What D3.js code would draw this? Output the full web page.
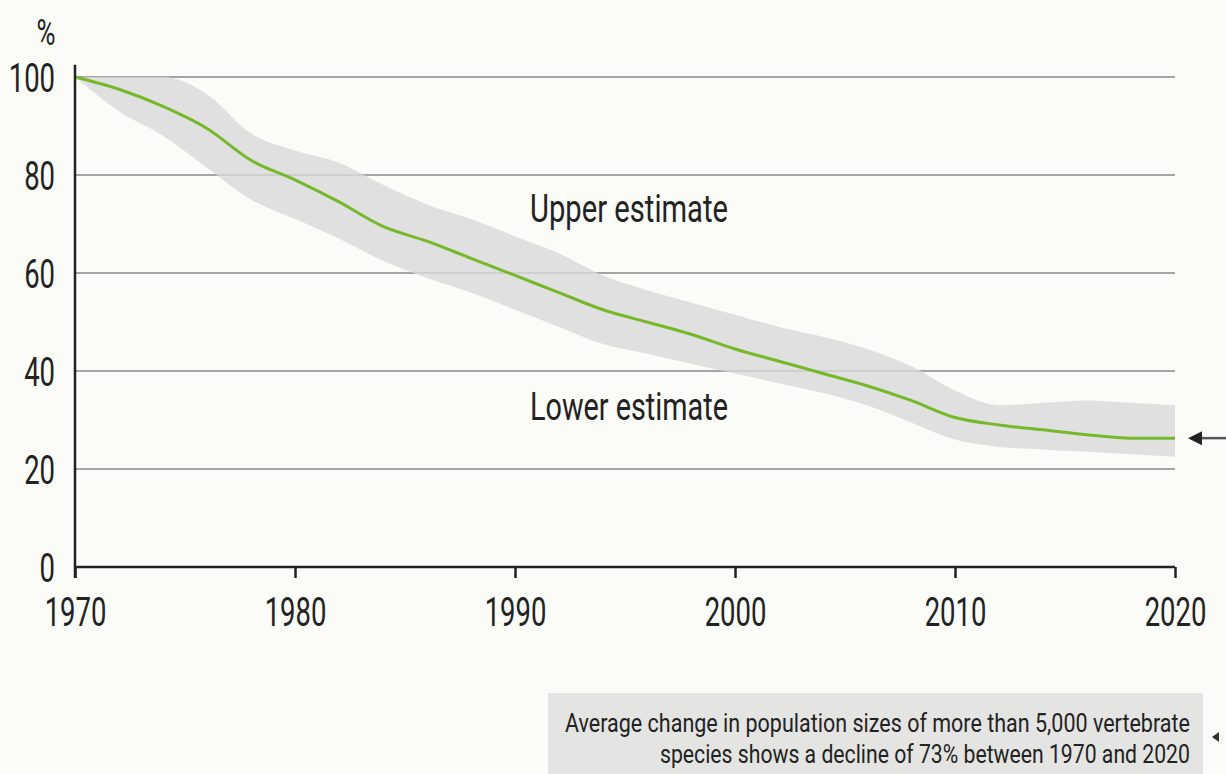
<!DOCTYPE html>
<html>
<head>
<meta charset="utf-8">
<script src="https://cdn.jsdelivr.net/npm/d3@7"></script>
<style>
  body { margin: 0; background: #fbfbf8; }
  svg { display: block; }
  text { font-family: Roboto, "DejaVu Sans", sans-serif; fill: #222; }
</style>
</head>
<body>
<div id="chart"></div>
<script>
// data
const years = [1970, 1972, 1974, 1976, 1978, 1980, 1982, 1984, 1986, 1988, 1990, 1992, 1994,
               1996, 1998, 2000, 2002, 2004, 2006, 2008, 2010, 2012, 2014, 2016, 2018, 2020];
const index = [100, 97.5, 94, 89.5, 83, 79, 74.5, 69.5, 66.5, 63, 59.5, 56, 52.5,
               50, 47.5, 44.5, 42, 39.5, 37, 34, 30.5, 29, 28, 27, 26.3, 26.3];
const upper = [100, 100, 100, 96.5, 88.5, 85, 82.5, 78, 74, 71, 67.5, 64, 59.5,
               56.5, 54, 51.5, 49, 47, 44.5, 41, 36, 33, 33.5, 34, 33.5, 33];
const lower = [100, 93, 88, 81.5, 75, 71, 67, 62.5, 59, 56, 52.5, 49, 45.5,
               43.5, 41.5, 39.5, 37.5, 35.5, 33, 29.5, 26, 24.5, 24, 23.5, 23, 22.5];
const yTicks = [0, 20, 40, 60, 80, 100];
const xTicks = [1970, 1980, 1990, 2000, 2010, 2020];
const caption = ["Average change in population sizes of more than 5,000 vertebrate",
                 "species shows a decline of 73% between 1970 and 2020"];

const width = 1226, height = 774;
const squeeze = 0.67; // reference uses a condensed face

const svg = d3.select("#chart")
    .append("svg")
    .attr("width", width)
    .attr("height", height);

const x = d3.scaleLinear().domain([1970, 2020]).range([75, 1175]);
const y = d3.scaleLinear().domain([0, 100]).range([567, 77]);

const rows = years.map((yr, i) => ({ year: yr, v: index[i], hi: upper[i], lo: lower[i] }));

// squeeze a text so it spans a given width, starting (or ending) at px
function fitText(sel, px, py, w, anchor) {
    const natural = sel.node().getComputedTextLength();
    const sx = w / natural;
    const left = anchor === "end" ? px - w : px;
    sel.attr("x", 0).attr("y", 0)
        .attr("transform", `translate(${left},${py}) scale(${sx},1)`);
}

// gridlines
svg.selectAll("line.grid")
    .data(yTicks.filter(d => d > 0))
    .enter()
    .append("line")
    .attr("x1", x(1970))
    .attr("x2", x(2020))
    .attr("y1", d => y(d))
    .attr("y2", d => y(d))
    .attr("stroke", "#a4a4a4")
    .attr("stroke-width", 2);

// uncertainty band
const band = d3.area()
    .x(d => x(d.year))
    .y0(d => y(d.lo))
    .y1(d => y(d.hi))
    .curve(d3.curveMonotoneX);

svg.append("path")
    .datum(rows)
    .attr("d", band)
    .attr("fill", "#d9d9d9")
    .attr("fill-opacity", 0.8);

// main index line
const line = d3.line()
    .x(d => x(d.year))
    .y(d => y(d.v))
    .curve(d3.curveMonotoneX);

svg.append("path")
    .datum(rows)
    .attr("d", line)
    .attr("fill", "none")
    .attr("stroke", "#76b82a")
    .attr("stroke-width", 3);

// axes
const xAxis = svg.append("g")
    .attr("transform", `translate(0, ${y(0)})`)
    .call(d3.axisBottom(x).tickValues(xTicks).tickFormat(d3.format("d")).tickSize(11).tickPadding(19));
xAxis.select(".domain").attr("stroke", "#222").attr("stroke-width", 2.5).attr("d", `M${x(1970)},0H${x(2020)}`);
xAxis.selectAll(".tick line").attr("stroke", "#222").attr("stroke-width", 2.5);
xAxis.selectAll(".tick text")
    .style("font-size", "41px")
    .attr("fill", "#222")
    .attr("transform", `scale(${squeeze},1)`);

const yAxis = svg.append("g")
    .attr("transform", `translate(${x(1970)}, 0)`)
    .call(d3.axisLeft(y).tickValues(yTicks).tickSize(0));
yAxis.select(".domain").attr("stroke", "#222").attr("stroke-width", 2.5).attr("d", `M0,${y(102.5)}V${y(0) + 11}`);
yAxis.selectAll(".tick text")
    .style("font-size", "41px")
    .attr("fill", "#222")
    .attr("x", -20 / squeeze)
    .attr("dy", "0.36em")
    .attr("transform", `scale(${squeeze},1)`);

svg.append("text")
    .attr("x", 46 / 0.7)
    .attr("y", 45)
    .attr("text-anchor", "middle")
    .attr("transform", "scale(0.7,1)")
    .style("font-size", "37px")
    .text("%");

// band labels
const upLabel = svg.append("text").style("font-size", "38px").text("Upper estimate");
fitText(upLabel, 530, 222, 198, "start");
const loLabel = svg.append("text").style("font-size", "38px").text("Lower estimate");
fitText(loLabel, 530, 420, 198, "start");

// arrow pointing at the 2020 value
const last = rows[rows.length - 1];
svg.append("line")
    .attr("x1", x(2020) + 25)
    .attr("x2", width)
    .attr("y1", y(last.v))
    .attr("y2", y(last.v))
    .attr("stroke", "#555")
    .attr("stroke-width", 2.5);
svg.append("path")
    .attr("d", `M${x(2020) + 13},${y(last.v)}l14,-7v14z`)
    .attr("fill", "#222");

// caption box
svg.append("rect")
    .attr("x", 548)
    .attr("y", 693)
    .attr("width", 655)
    .attr("height", 81)
    .attr("fill", "#e4e4e2");

caption.forEach((t, i) => {
    const c = svg.append("text").style("font-size", "26px").text(t);
    fitText(c, 1190, 732 + i * 31, i === 0 ? 625 : 530, "end");
});

// stray arrowhead of a cut-off annotation at the right edge
svg.append("path")
    .attr("d", "M1212,737l7,-5v10z")
    .attr("fill", "#333");
</script>
</body>
</html>
